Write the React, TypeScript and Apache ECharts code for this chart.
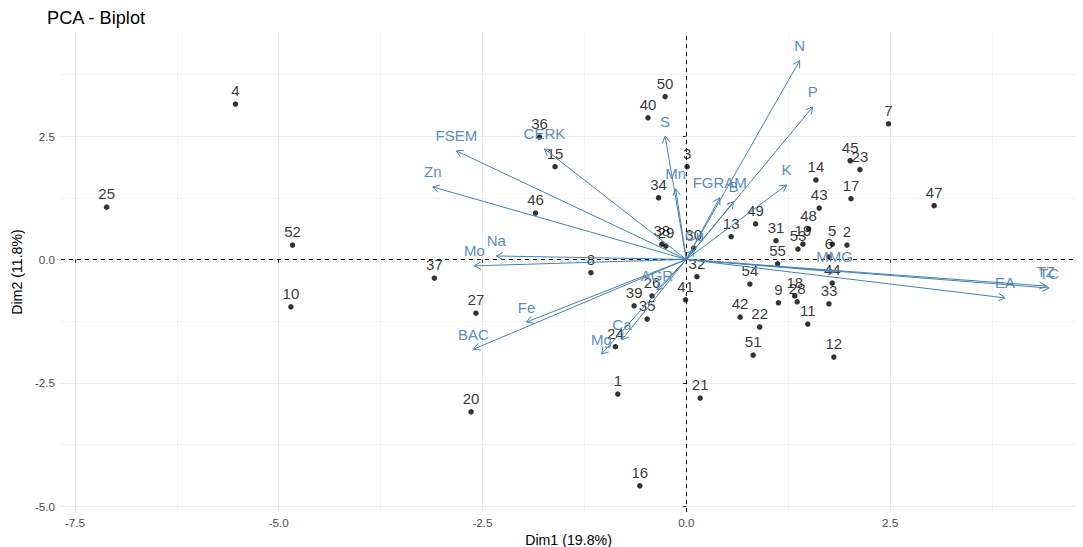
import React, { useEffect, useRef } from "react";
import * as echarts from "echarts";

const indNames = ["1","2","3","4","5","6","7","8","9","10","11","12","13","14","15","16","17","18","19","20","21","22","23","24","25","26","27","28","29","30","31","32","33","34","35","36","37","38","39","40","41","42","43","44","45","46","47","48","49","50","51","52","53","54","55"];
const indX = [-0.84,1.97,0.01,-5.53,1.79,1.75,2.48,-1.17,1.13,-4.85,1.49,1.81,0.55,1.59,-1.61,-0.57,2.02,1.33,1.43,-2.64,0.17,0.9,2.13,-0.87,-7.11,-0.42,-2.58,1.36,-0.25,0.09,1.1,0.13,1.75,-0.34,-0.48,-1.8,-3.09,-0.3,-0.64,-0.47,-0.01,0.66,1.63,1.79,2.01,-1.85,3.04,1.5,0.85,-0.26,0.82,-4.83,1.37,0.78,1.12];
const indY = [-2.73,0.29,1.88,3.15,0.31,0.05,2.75,-0.27,-0.88,-0.96,-1.31,-1.98,0.46,1.61,1.88,-4.59,1.23,-0.74,0.31,-3.09,-2.81,-1.37,1.82,-1.77,1.06,-0.74,-1.09,-0.86,0.27,0.23,0.38,-0.35,-0.9,1.25,-1.21,2.48,-0.38,0.31,-0.94,2.87,-0.82,-1.17,1.04,-0.48,2.0,0.94,1.09,0.62,0.72,3.3,-1.94,0.29,0.21,-0.5,-0.09];

const varNames = ["N","P","S","K","Mn","FGRAM","B","CERK","FSEM","Zn","Na","Mo","Fe","BAC","Ca","Mg","AGR","Cu","MMG","EA","TC","TZ"];
const varX = [1.39,1.55,-0.26,1.23,-0.13,0.41,0.58,-1.74,-2.82,-3.11,-2.33,-2.6,-1.96,-2.61,-0.79,-1.04,-0.36,0.1,1.82,3.91,4.45,4.41];
const varY = [4.03,3.09,2.5,1.51,1.43,1.25,1.17,2.24,2.2,1.47,0.07,-0.13,-1.27,-1.82,-1.63,-1.92,-0.62,0.19,-0.25,-0.78,-0.58,-0.54];

const xMajorTicks = [-7.5, -5, -2.5, 0, 2.5];
const xMinorTicks = [-6.25, -3.75, -1.25, 1.25, 3.75];
const yMajorTicks = [-5, -2.5, 0, 2.5];
const yMinorTicks = [-3.75, -1.25, 1.25, 3.75];

const FONT = "'Liberation Sans', Arial, Helvetica, sans-serif";
const STEEL = "#4682B4";
const STEEL_TEXT = "#5b8ec0";
const GRID = "#ebebeb";

const X_MIN = -7.67, X_MAX = 4.78, Y_MIN = -5.12, Y_MAX = 4.61;

export default function App() {
  const ref = useRef<HTMLDivElement>(null);
  useEffect(() => {
    if (!ref.current) return;
    const chart = echarts.init(ref.current, null, { renderer: "svg" });
    const indData = indNames.map((n, i) => ({ name: n, value: [indX[i], indY[i]] }));
    const varData = varNames.map((n, i) => [varX[i], varY[i], n]);
    const fmt = (v: number) => v.toFixed(1);
    const axisText = { fontFamily: FONT, fontSize: 11.7, color: "#4d4d4d" };
    const titleText = { fontFamily: FONT, fontSize: 14.2, color: "#000" };

    chart.setOption({
      animation: false,
      backgroundColor: "#ffffff",
      title: {
        text: "PCA - Biplot",
        left: 47,
        top: 9,
        padding: 0,
        textStyle: { fontFamily: FONT, fontSize: 18.2, fontWeight: "normal", color: "#000" },
      },
      grid: { left: 61, right: 7, top: 32, bottom: 35, containLabel: false, outerBoundsMode: "none" },
      xAxis: [
        {
          type: "value", min: X_MIN, max: X_MAX, position: "bottom",
          name: "Dim1 (19.8%)", nameLocation: "middle", nameGap: 15, nameTextStyle: titleText,
          axisLine: { show: false },
          axisTick: { show: true, customValues: xMajorTicks, length: 3.5, lineStyle: { color: "#333", width: 1 } },
          axisLabel: { customValues: xMajorTicks, formatter: fmt, margin: 4, ...axisText },
          splitLine: { show: true, lineStyle: { color: GRID, width: 1 } },
        },
        {
          type: "value", min: X_MIN, max: X_MAX, position: "top",
          axisLine: { show: false },
          axisTick: { show: false, customValues: xMinorTicks },
          axisLabel: { show: false, customValues: xMinorTicks },
          splitLine: { show: true, lineStyle: { color: GRID, width: 0.6 } },
        },
      ],
      yAxis: [
        {
          type: "value", min: Y_MIN, max: Y_MAX, position: "left",
          name: "Dim2 (11.8%)", nameLocation: "middle", nameGap: 37, nameRotate: 90, nameTextStyle: titleText,
          axisLine: { show: false },
          axisTick: { show: true, customValues: yMajorTicks, length: 3.5, lineStyle: { color: "#333", width: 1 } },
          axisLabel: { customValues: yMajorTicks, formatter: fmt, margin: 6, ...axisText },
          splitLine: { show: true, lineStyle: { color: GRID, width: 1 } },
        },
        {
          type: "value", min: Y_MIN, max: Y_MAX, position: "right",
          axisLine: { show: false },
          axisTick: { show: false, customValues: yMinorTicks },
          axisLabel: { show: false, customValues: yMinorTicks },
          splitLine: { show: true, lineStyle: { color: GRID, width: 0.6 } },
        },
      ],
      series: [
        {
          type: "scatter",
          name: "ind",
          xAxisIndex: 0,
          yAxisIndex: 0,
          data: indData,
          symbol: "circle",
          symbolSize: 5.5,
          itemStyle: { color: "#000" },
          z: 3,
          label: {
            show: true,
            formatter: "{b}",
            position: "top",
            distance: 3,
            fontFamily: FONT,
            fontSize: 15,
            color: "#000",
          },
          markLine: {
            silent: true,
            symbol: ["none", "none"],
            label: { show: false },
            lineStyle: { color: "#000", type: [4, 4], width: 1 },
            data: [{ xAxis: 0 }, { yAxis: 0 }],
            z: 1,
          },
        },
        {
          type: "custom",
          name: "var",
          xAxisIndex: 0,
          yAxisIndex: 0,
          data: varData,
          z: 4,
          renderItem: (params: any, api: any) => {
            const o = api.coord([0, 0]);
            const p = api.coord([api.value(0), api.value(1)]);
            const name = varNames[params.dataIndex];
            const a = Math.atan2(p[1] - o[1], p[0] - o[0]);
            const L = 7.5;
            const da = Math.PI / 6;
            const h1 = [p[0] - L * Math.cos(a - da), p[1] - L * Math.sin(a - da)];
            const h2 = [p[0] - L * Math.cos(a + da), p[1] - L * Math.sin(a + da)];
            return {
              type: "group",
              children: [
                { type: "line", shape: { x1: o[0], y1: o[1], x2: p[0], y2: p[1] }, style: { stroke: STEEL, lineWidth: 1 } },
                { type: "polyline", shape: { points: [h1, p, h2] }, style: { stroke: STEEL, lineWidth: 1, fill: null } },
                {
                  type: "text",
                  style: {
                    text: name, x: p[0], y: p[1] - 15,
                    fill: STEEL_TEXT, fontSize: 15, fontFamily: FONT,
                    align: "center", verticalAlign: "middle",
                  },
                },
              ],
            };
          },
        },
      ],
    });
    return () => chart.dispose();
  }, []);
  return <div ref={ref} style={{ position: "fixed", left: 0, top: 0, width: 1083, height: 547 }} />;
}
